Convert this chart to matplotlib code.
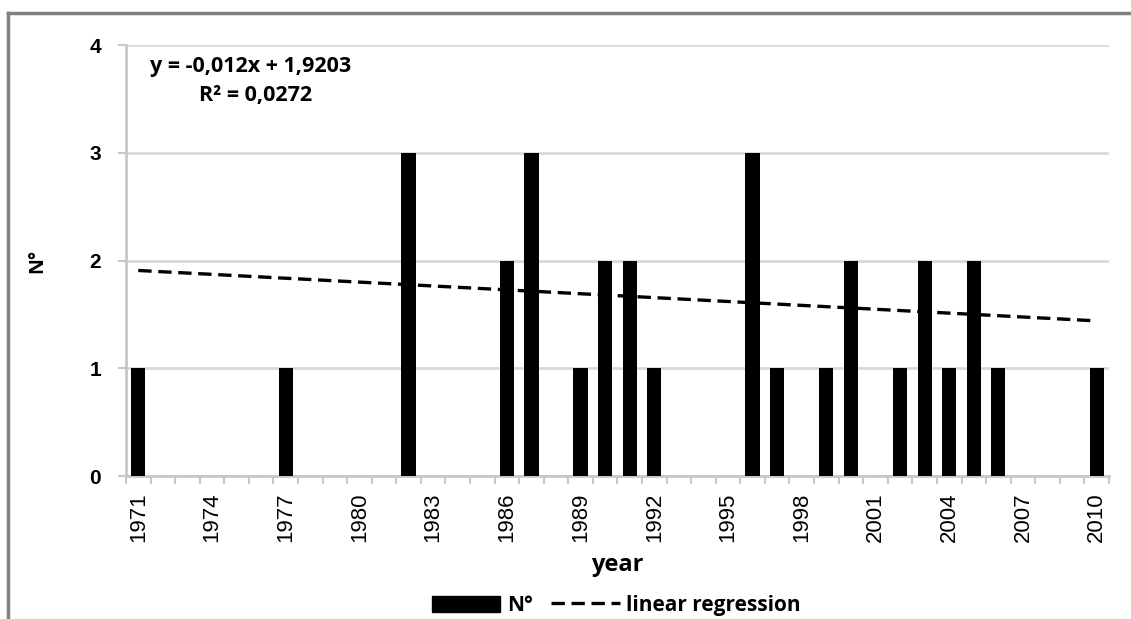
import matplotlib
matplotlib.use("Agg")
import matplotlib.pyplot as plt
from matplotlib.patches import Patch
from matplotlib.lines import Line2D
import numpy as np

years = list(range(1971, 2011))
counts = [1, 0, 0, 0, 0, 0, 1, 0, 0, 0,
          0, 3, 0, 0, 0, 2, 3, 0, 1, 2,
          2, 1, 0, 0, 0, 3, 1, 0, 1, 2,
          0, 1, 2, 1, 2, 1, 0, 0, 0, 1]
slope = -0.012
intercept = 1.9203
r2_text = "0,0272"
yticks = [0, 1, 2, 3, 4]

fig = plt.figure(figsize=(11.31, 6.19), dpi=100)
ax = fig.add_axes([0.1114, 0.231, 0.9805 - 0.1114, 0.927 - 0.231])

x = np.arange(len(years))
ax.bar(x, counts, width=0.58, color="black", zorder=3)
xi = x + 1
ax.plot(x, slope * xi + intercept, color="black", lw=2.4, ls=(0, (4, 2.0)), zorder=4)

ax.set_xlim(-0.5, len(years) - 0.5)
ax.set_ylim(0, 4)
ax.set_yticks(yticks)
ax.yaxis.grid(True, color="#d9d9d9", lw=2)
ax.set_axisbelow(True)
for s in ["top", "right"]:
    ax.spines[s].set_visible(False)
for s in ["left", "bottom"]:
    ax.spines[s].set_color("#c8c8c8")
    ax.spines[s].set_linewidth(2)

ax.set_xticks(x[::3])
ax.set_xticklabels([str(y) for y in years[::3]], rotation=90,
                   fontsize=16, fontweight="normal", family="Liberation Sans")
ax.set_xticks(np.arange(-0.5, len(years), 1), minor=True)
ax.tick_params(axis="x", which="major", length=0, pad=12)
ax.tick_params(axis="x", which="minor", length=6, width=1.5, color="#c8c8c8")
ax.tick_params(axis="y", length=6, width=1.5, color="#c8c8c8", pad=12)
for lab in ax.get_yticklabels():
    lab.set_fontsize(15)
    lab.set_fontweight("bold")
    lab.set_family("Liberation Sans")

ax.set_xlabel("year", fontsize=17, fontweight="bold", family="Open Sans", labelpad=8)
ax.set_ylabel("N°", fontsize=14, fontweight="bold", family="Open Sans", labelpad=30)

fig.text(0.133, 0.893, "y = -0,012x + 1,9203", fontsize=15.5, fontweight="bold",
         family="Open Sans", va="center")
fig.text(0.226, 0.845, "R² = " + r2_text, fontsize=15.5, fontweight="bold",
         family="Open Sans", va="center", ha="center")

handles = [Patch(facecolor="black", edgecolor="black"),
           Line2D([], [], color="black", lw=2.4, ls=(0, (4, 2.0)))]
fig.legend(handles, ["N°", "linear regression"], loc="center",
           bbox_to_anchor=(0.545, 0.022), ncol=2, frameon=False,
           prop={"family": "Open Sans", "weight": "bold", "size": 15},
           handlelength=3.3, handleheight=0.8, columnspacing=0.9, handletextpad=0.3)

# figure border (top and left)
fig.add_artist(Line2D([0.007, 1.0], [0.979, 0.979], color="#808080", lw=2.5, transform=fig.transFigure))
fig.add_artist(Line2D([0.007, 0.007], [0.0, 0.979], color="#808080", lw=2.5, transform=fig.transFigure))

fig.savefig("out.png", dpi=100)
